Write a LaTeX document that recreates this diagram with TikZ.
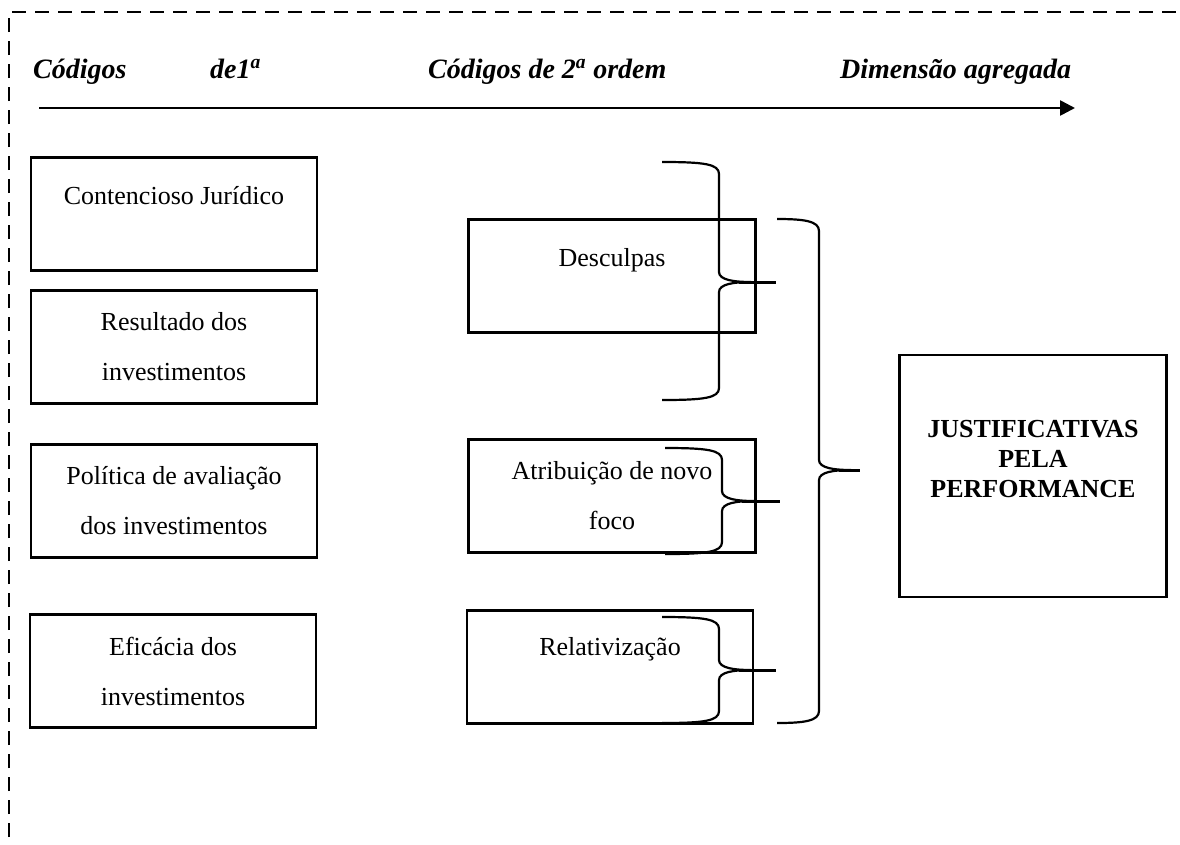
\documentclass[tikz,border=0pt]{standalone}
\usepackage{fontspec}
\setmainfont{Liberation Serif}
\usetikzlibrary{arrows.meta}
\def\wordbrace[#1](#2:#3:#4)(#5:#6:#7){\draw[#1] (#2,#5) .. controls ({#3-15},#5) and (#3,{#5+2}) .. (#3,{#5+12}) -- (#3,{#6-10}) .. controls (#3,{#6-2}) and ({#3+15},#6) .. ({#3+32},#6) .. controls ({#3+15},#6) and (#3,{#6+2}) .. (#3,{#6+10}) -- (#3,{#7-12}) .. controls (#3,{#7-2}) and ({#3-15},#7) .. (#2,#7); \draw[#1, line width=3pt] ({#3+20},#6) -- (#4,#6);}

\begin{document}
\begin{tikzpicture}[x=1pt, y=-1pt,
		codebox/.style={draw, line width=2.2pt, minimum width=286pt, minimum height=113pt, inner sep=0pt, align=center, font=\fontsize{26}{50}\selectfont},
		oneline/.style={text depth=38pt},
		headtxt/.style={anchor=base west, inner sep=0pt, font=\fontsize{28}{30}\selectfont\bfseries\itshape}]
		%%%%% START %%%%%
		
		\useasboundingbox (0,0) rectangle (1180,844);
		\draw[line width=2.2pt, dash pattern=on 14pt off 9pt] (9,860) -- (9,12) -- (1200,12);
		
		\node[headtxt] (cod1) at (33,78) {Códigos};
		\node[headtxt] (de1) at (210,78) {de1\textsuperscript{a}};
		\node[headtxt] (cod2) at (428,78) {Códigos de 2\textsuperscript{a} ordem};
		\node[headtxt] (dim) at (840,78) {Dimensão agregada};
		
		\coordinate (axis0) at (39,108);
		\coordinate (axis1) at (1075,108);
		\draw[line width=2.6pt, -{Triangle[length=15pt,width=15pt]}] (axis0) -- (axis1);
		
		\node[codebox, oneline] (juridico) at (174,214) {Contencioso Jurídico};
		\node[codebox] (resultado) at (174,347) {Resultado dos\\investimentos};
		\node[codebox] (politica) at (174,501) {Política de avaliação\\dos investimentos};
		\node[codebox] (eficacia) at (173,671) {Eficácia dos\\investimentos};
		
		\node[codebox, oneline, minimum width=287pt] (desculpas) at (612,276) {Desculpas};
		\node[codebox, minimum width=287pt] (atribuicao) at (612,496) {Atribuição de novo\\foco};
		\node[codebox, oneline, text depth=42pt] (relativizacao) at (610,667) {Relativização};
		
		\node[draw, line width=2.2pt, minimum width=267pt, minimum height=242pt, inner sep=0pt, align=center, text depth=34pt, font=\fontsize{26}{30}\selectfont\bfseries] (justificativas) at (1033,476) {JUSTIFICATIVAS\\PELA\\PERFORMANCE};
		
		\wordbrace[line width=2.2pt](662:719:776)(162:282:400);
		\wordbrace[line width=2.2pt](665:722:780)(448:501:554);
		\wordbrace[line width=2.2pt](662:719:776)(617:670:723);
		\wordbrace[line width=2.2pt](777:819:860)(219:470:723);
		
		%%%%% END %%%%%
\end{tikzpicture}
\end{document}
